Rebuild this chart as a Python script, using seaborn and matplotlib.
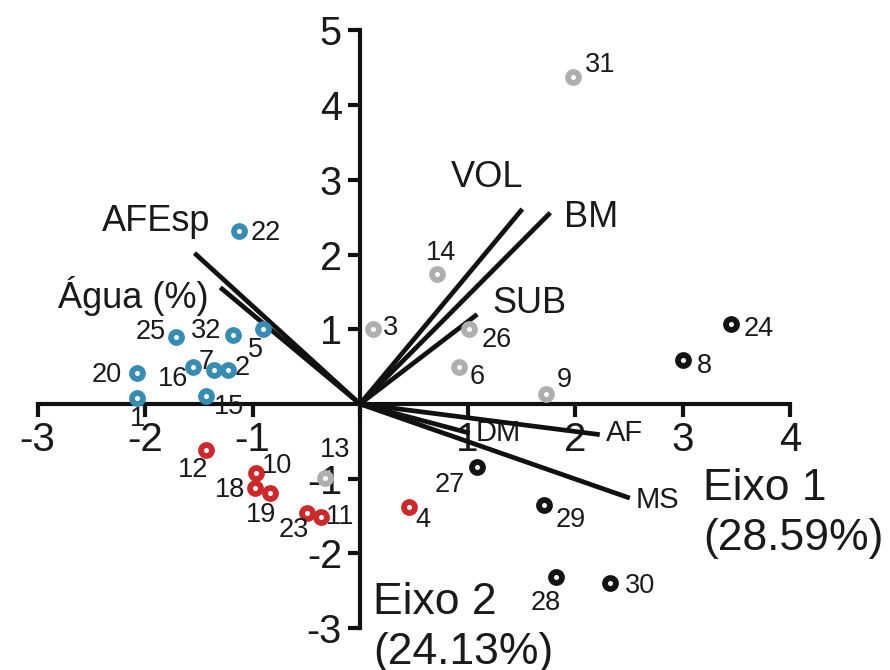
import matplotlib.pyplot as plt
import seaborn as sns
import pandas as pd

# scores of the sampled plants on the two first PCA axes
ids = [1, 2, 3, 4, 5, 6, 7, 8, 9, 10, 11, 12, 13, 14, 15, 16,
       18, 19, 20, 22, 23, 24, 25, 26, 27, 28, 29, 30, 31, 32]
eixo1 = [-2.07, -1.23, 0.12, 0.46, -0.90, 0.92, -1.36, 3.00, 1.73, -0.97, -0.36, -1.43, -0.33, 0.72, -1.43, -1.55,
         -0.98, -0.84, -2.07, -1.13, -0.49, 3.45, -1.71, 1.01, 1.09, 1.82, 1.71, 2.33, 1.98, -1.18]
eixo2 = [0.08, 0.46, 1.00, -1.38, 1.00, 0.50, 0.46, 0.59, 0.13, -0.92, -1.51, -0.62, -0.99, 1.74, 0.11, 0.49,
         -1.13, -1.19, 0.41, 2.32, -1.46, 1.07, 0.90, 1.00, -0.84, -2.31, -1.35, -2.40, 4.38, 0.92]
grupo = ["A", "A", "C", "B", "A", "C", "A", "D", "C", "B", "B", "B", "C", "C", "A", "A",
         "B", "B", "A", "A", "B", "D", "A", "C", "D", "D", "D", "D", "C", "A"]

# variable loadings
variaveis = ["AFEsp", "Água (%)", "VOL", "BM", "SUB", "DM", "AF", "MS"]
carga1 = [-1.54, -1.30, 1.51, 1.77, 1.09, 1.02, 2.23, 2.51]
carga2 = [2.02, 1.56, 2.61, 2.56, 1.20, -0.39, -0.41, -1.26]

cores = {"A": "#388cb4", "B": "#cc2a2a", "C": "#afafaf", "D": "#141414"}

# label offsets in pixels (dx, dy up)
off_pts = {1: (0, -21), 2: (14, 2), 3: (18, 1), 4: (13, -13), 5: (-8, -21), 6: (18, -10),
           7: (-8, 8), 8: (22, -6), 9: (18, 14), 10: (21, 7), 11: (19, 0), 12: (-13, -20),
           13: (11, 28), 14: (4, 21), 15: (23, -11), 16: (-20, -12), 18: (-25, -2),
           19: (-9, -22), 20: (-31, -2), 22: (27, -2), 23: (-14, -17), 24: (28, -5),
           25: (-26, 5), 26: (28, -11), 27: (-27, -18), 28: (-10, -26), 29: (27, -15),
           30: (30, -3), 31: (27, 12), 32: (-27, 4)}
off_vars = {"AFEsp": (-38, 32, 26), "Água (%)": (-87, -9, 26), "VOL": (-35, 32, 26),
            "BM": (41, -5, 26), "SUB": (52, 11, 26), "DM": (29, 0, 21),
            "AF": (25, 2, 21), "MS": (28, -2, 21)}

sns.set_style("white")
plt.rcParams["font.family"] = ["Liberation Sans", "DejaVu Sans"]
plt.rcParams["axes.unicode_minus"] = False

df = pd.DataFrame({"id": ids, "eixo1": eixo1, "eixo2": eixo2, "grupo": grupo})

fig = plt.figure(figsize=(8.9, 6.7), dpi=100)
ax = fig.add_axes([0, 0, 1, 1])

# loading vectors
for nome, x, y in zip(variaveis, carga1, carga2):
    ax.plot([0, x], [0, y], color="#111111", lw=3.4, solid_capstyle="butt", zorder=3)
    dx, dy, fs = off_vars[nome]
    ax.annotate(nome, (x, y), xytext=(dx, dy), textcoords="offset pixels",
                ha="center", va="center", fontsize=fs, color="#1a1a1a")

# samples as rings
for g, cor in cores.items():
    sub = df[df.grupo == g]
    sns.scatterplot(data=sub, x="eixo1", y="eixo2", ax=ax, s=62, color="white",
                    edgecolor=cor, linewidth=4.2, zorder=5, legend=False)

for i, x, y in zip(ids, eixo1, eixo2):
    dx, dy = off_pts[i]
    ax.annotate(str(i), (x, y), xytext=(dx, dy), textcoords="offset pixels",
                ha="center", va="center", fontsize=19.5, color="#1a1a1a", zorder=6)

# axes crossing at the origin
ax.set_xlim(-3.349, 4.930)
ax.set_ylim(-3.561, 5.408)
for s in ["top", "right"]:
    ax.spines[s].set_visible(False)
ax.spines["left"].set_position(("data", 0))
ax.spines["bottom"].set_position(("data", 0))
ax.spines["left"].set_bounds(-3, 5)
ax.spines["bottom"].set_bounds(-3, 4)
for s in ["left", "bottom"]:
    ax.spines[s].set_linewidth(3)
    ax.spines[s].set_color("#111111")
    ax.spines[s].set_zorder(4)

xt = [-3, -2, -1, 0, 1, 2, 3, 4]
yt = [-3, -2, -1, 1, 2, 3, 4, 5]
ax.set_xticks(xt)
ax.set_xticklabels([str(v) if v != 0 else "" for v in xt])
ax.set_yticks(yt)
ax.set_yticklabels([str(v) for v in yt])
ax.tick_params(axis="x", direction="out", length=9, width=3, pad=3, labelsize=29,
               colors="#111111", labelcolor="#1a1a1a", bottom=True)
ax.tick_params(axis="y", direction="out", length=9, width=3, pad=4, labelsize=28.5,
               colors="#111111", labelcolor="#1a1a1a", left=True)
ax.set_xlabel("")
ax.set_ylabel("")

ax.text(3.19, -1.47, "Eixo 1\n(28.59%)", ha="left", va="center", fontsize=32,
        linespacing=1.28, color="#1a1a1a")
ax.text(0.12, -2.99, "Eixo 2\n(24.13%)", ha="left", va="center", fontsize=32,
        linespacing=1.28, color="#1a1a1a")

fig.savefig("out.png", dpi=100)
